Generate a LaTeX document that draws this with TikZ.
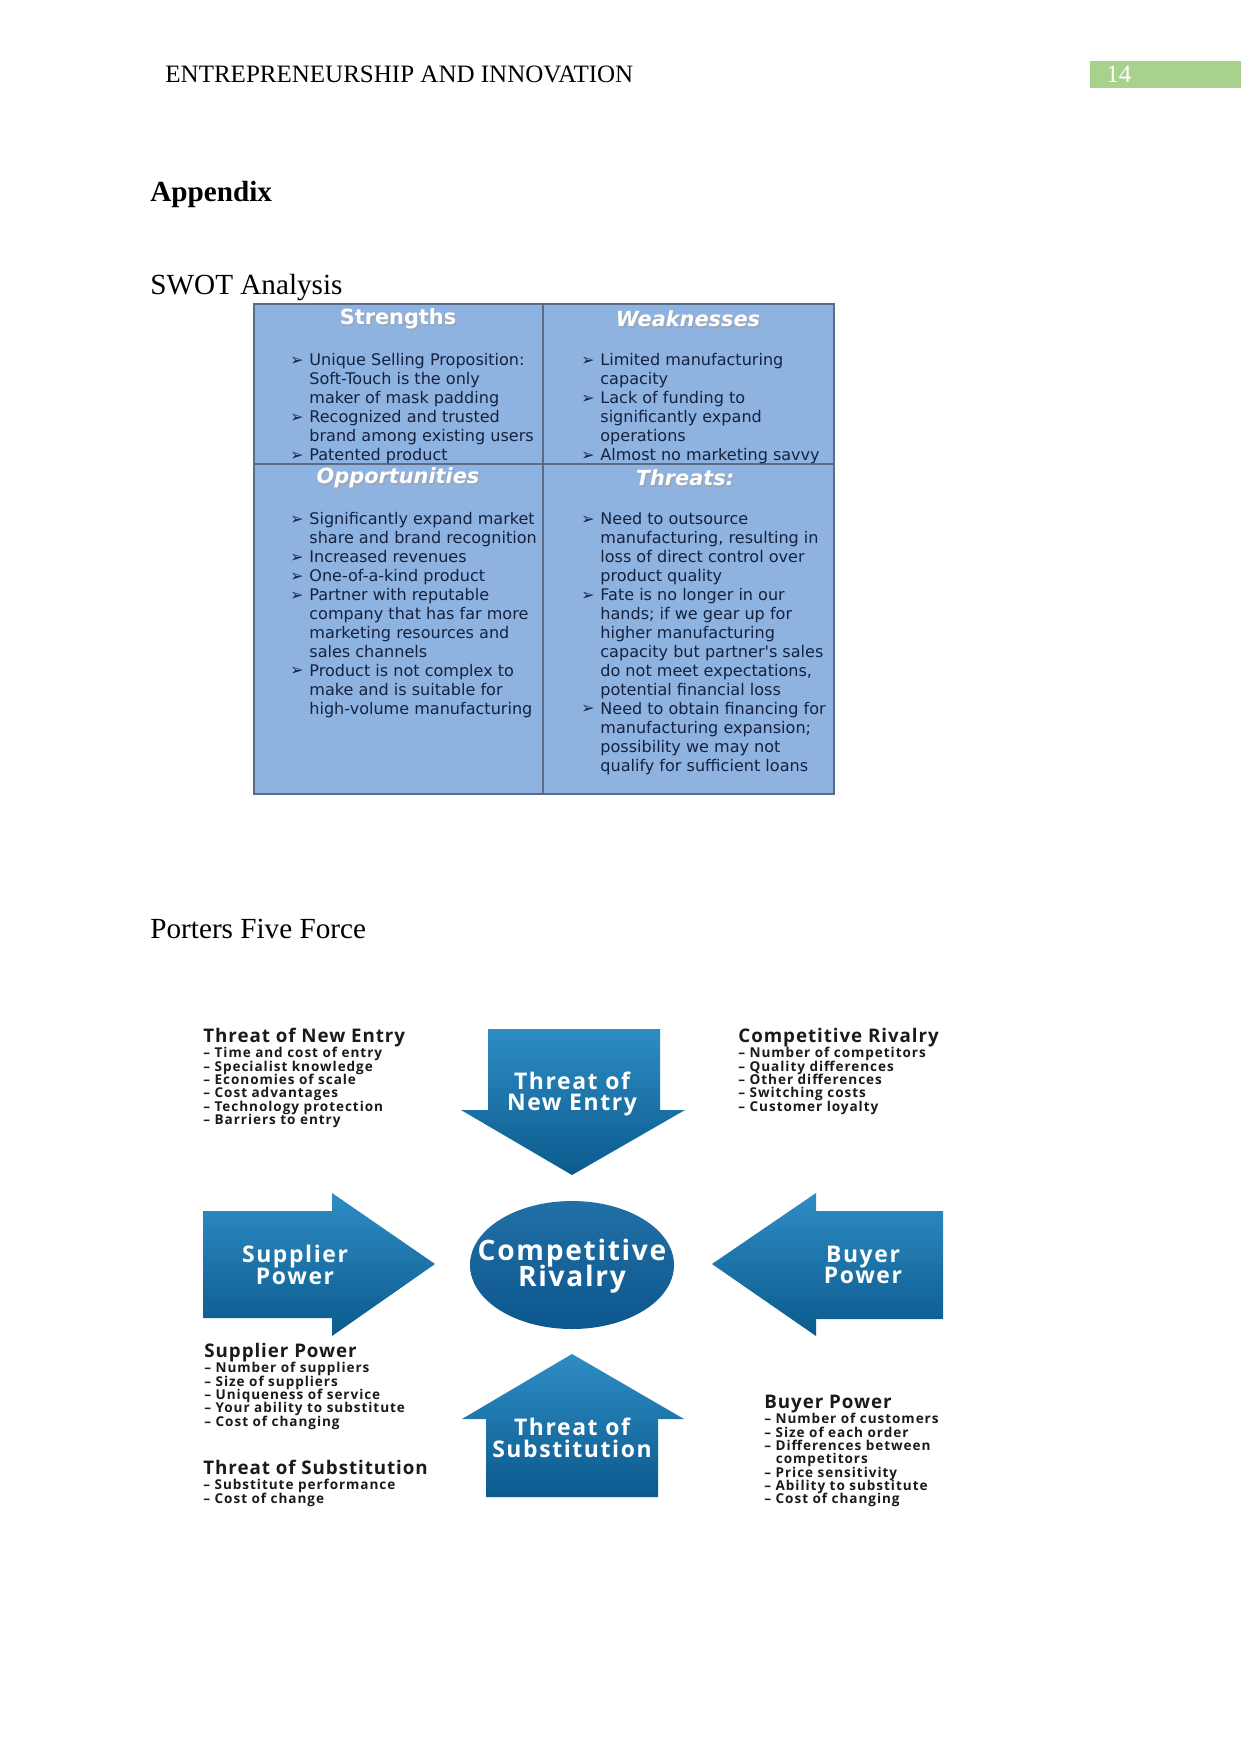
\documentclass[tikz,border=0pt]{standalone}
\usepackage{fontspec}
\setmainfont{Liberation Serif}
\newfontfamily\swotfont{DejaVu Sans}
\newfontfamily\porterfont{Open Sans}
\definecolor{hdrgreen}{HTML}{A9D18E}
\definecolor{swotfill}{HTML}{8EB3E0}
\definecolor{swotline}{HTML}{5A6C88}
\definecolor{swottext}{HTML}{15223F}
\definecolor{arrlight}{HTML}{2E8DC4}
\definecolor{arrdark}{HTML}{0B5A8D}
\definecolor{circfill}{HTML}{0E63A0}
\definecolor{portertext}{HTML}{1A1A1A}
\newcommand\swb{\makebox[9.1pt][l]{\raisebox{0.05ex}{\fontsize{7.5}{7.5}\selectfont ➢}}}
\newcommand\swi{\hspace*{9.1pt}}
\newcommand\tightlines{\lineskiplimit=-20pt\lineskip=0pt}
\tikzset{
  pagetext/.style={inner sep=0pt, font=\fontsize{12}{14}\selectfont},
  headtext/.style={inner sep=0pt, font=\fontsize{14}{16}\selectfont},
  swtitle/.style={inner sep=0pt, text=white, font=\swotfont\bfseries\fontsize{10}{12}\selectfont},
  swtitleit/.style={swtitle, font=\swotfont\bfseries\itshape\fontsize{10}{12}\selectfont},
  swshadow/.style={text=swotline!60},
  swtext/.style={inner sep=0pt, align=left, text=swottext, font=\swotfont\fontsize{7.7}{9.1}\selectfont\tightlines, anchor=north west},
  ptitle/.style={inner sep=0pt, text=portertext, anchor=base west, font=\porterfont\bfseries\addfontfeature{LetterSpace=5}\fontsize{9}{11}\selectfont},
  pitems/.style={inner sep=0pt, align=left, text=portertext, anchor=north west, font=\porterfont\bfseries\addfontfeature{LetterSpace=7}\fontsize{6.5}{6.4}\selectfont\tightlines},
  arrlabel/.style={inner sep=0pt, align=center, text=white, font=\porterfont\bfseries\addfontfeature{LetterSpace=7}\fontsize{11}{10.3}\selectfont\tightlines},
  arrshape/.style={top color=arrlight, bottom color=arrdark, draw=none},
}
\begin{document}
\begin{tikzpicture}[x=0.4797pt,y=-0.4797pt]
\useasboundingbox (0,0) rectangle (1241,1754);
\fill[white] (0,0) rectangle (1241,1754);

% header
\node[pagetext, anchor=base west] (hdr) at (165,83) {ENTREPRENEURSHIP AND INNOVATION};
\fill[hdrgreen] (1090,61) rectangle (1241,88);
\node[pagetext, anchor=base west, text=white] (pnum) at (1106,83) {14};

\node[headtext, anchor=base west, font=\bfseries\fontsize{14}{16}\selectfont] (app) at (150,201) {Appendix};
\node[headtext, anchor=base west] (swoth) at (150,294) {SWOT Analysis};
\node[headtext, anchor=base west] (porth) at (150,938) {Porters Five Force};

% SWOT grid
\fill[swotfill] (254,304) rectangle (834,794);
\draw[swotline, line width=1.2pt] (254,304) rectangle (834,794);
\draw[swotline, line width=1pt] (543,304) -- (543,794);
\draw[swotline, line width=1pt] (254,464) -- (834,464);

\node[swtitle, swshadow] at (399.5,320.5) {Strengths};
\node[swtitle] (st) at (398,319) {Strengths};
\node[swtitleit, swshadow] at (689.5,320.5) {Weaknesses};
\node[swtitleit] (wt) at (688,319) {Weaknesses};
\node[swtitleit, swshadow] at (399.5,479.5) {Opportunities};
\node[swtitleit] (ot) at (398,478) {Opportunities};
\node[swtitleit, swshadow] at (686.5,479.5) {Threats:};
\node[swtitleit] (tt) at (685,478) {Threats:};

\node[swtext] (sb) at (290,353) {\swb Unique Selling Proposition:\\
\swi Soft-Touch is the only\\
\swi maker of mask padding\\
\swb Recognized and trusted\\
\swi brand among existing users\\
\swb Patented product};

\node[swtext] (wb) at (581,353) {\swb Limited manufacturing\\
\swi capacity\\
\swb Lack of funding to\\
\swi significantly expand\\
\swi operations\\
\swb Almost no marketing savvy};

\node[swtext] (ob) at (290,512) {\swb Significantly expand market\\
\swi share and brand recognition\\
\swb Increased revenues\\
\swb One-of-a-kind product\\
\swb Partner with reputable\\
\swi company that has far more\\
\swi marketing resources and\\
\swi sales channels\\
\swb Product is not complex to\\
\swi make and is suitable for\\
\swi high-volume manufacturing};

\node[swtext] (tb) at (581,512) {\swb Need to outsource\\
\swi manufacturing, resulting in\\
\swi loss of direct control over\\
\swi product quality\\
\swb Fate is no longer in our\\
\swi hands; if we gear up for\\
\swi higher manufacturing\\
\swi capacity but partner's sales\\
\swi do not meet expectations,\\
\swi potential financial loss\\
\swb Need to obtain financing for\\
\swi manufacturing expansion;\\
\swi possibility we may not\\
\swi qualify for sufficient loans};

% Porter's five forces shapes
\shade[arrshape] (488,1029) -- (660,1029) -- (660,1110) -- (685,1110) -- (572,1175) -- (461,1110) -- (488,1110) -- cycle;
\shade[arrshape] (572,1354) -- (684,1419) -- (658,1419) -- (658,1497) -- (486,1497) -- (486,1419) -- (462,1419) -- cycle;
\shade[arrshape] (203,1211) -- (332,1211) -- (332,1193) -- (435,1264) -- (332,1336) -- (332,1318) -- (203,1318) -- cycle;
\shade[arrshape] (943,1211) -- (816,1211) -- (816,1193) -- (712,1264) -- (816,1336) -- (816,1319) -- (943,1319) -- cycle;
\shade[top color=circfill!92!white, bottom color=circfill!88!black] (572,1265) ellipse [x radius=102, y radius=64];

\node[arrlabel] (tne) at (572,1094) {Threat of\\New Entry};
\node[arrlabel] (tsub) at (572,1438) {Threat of\\Substitution};
\node[arrlabel] (sup) at (295,1265) {Supplier\\Power};
\node[arrlabel] (buy) at (863,1265) {Buyer\\Power};
\node[arrlabel, font=\porterfont\bfseries\addfontfeature{LetterSpace=6}\fontsize{13.5}{12.3}\selectfont\tightlines] (cr) at (572,1266) {Competitive\\Rivalry};

% Porter text blocks
\node[ptitle] (t1) at (203,1042) {Threat of New Entry};
\node[pitems] (i1) at (203,1047) {– Time and cost of entry\\
– Specialist knowledge\\
– Economies of scale\\
– Cost advantages\\
– Technology protection\\
– Barriers to entry};

\node[ptitle] (t2) at (738,1042) {Competitive Rivalry};
\node[pitems] (i2) at (738,1047) {– Number of competitors\\
– Quality differences\\
– Other differences\\
– Switching costs\\
– Customer loyalty};

\node[ptitle] (t3) at (204,1357) {Supplier Power};
\node[pitems] (i3) at (204,1362) {– Number of suppliers\\
– Size of suppliers\\
– Uniqueness of service\\
– Your ability to substitute\\
– Cost of changing};

\node[ptitle] (t4) at (203,1474) {Threat of Substitution};
\node[pitems] (i4) at (203,1479) {– Substitute performance\\
– Cost of change};

\node[ptitle] (t5) at (764,1408) {Buyer Power};
\node[pitems] (i5) at (764,1413) {– Number of customers\\
– Size of each order\\
– Differences between\\
\hspace*{5.5pt}competitors\\
– Price sensitivity\\
– Ability to substitute\\
– Cost of changing};
\end{tikzpicture}
\end{document}
